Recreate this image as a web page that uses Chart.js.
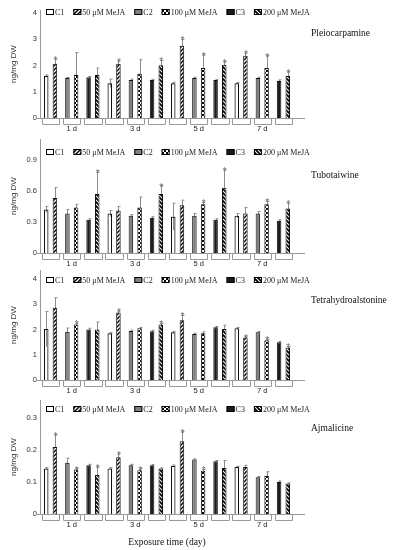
<!DOCTYPE html>
<html>
<head>
<meta charset="utf-8">
<script src="https://cdn.jsdelivr.net/npm/chart.js@4.4.1/dist/chart.umd.min.js"></script>
<style>
  body { margin: 0; background: #fff; }
  #wrap { position: relative; width: 394px; height: 550px; overflow: hidden; }
  #wrap canvas { position: absolute; left: 0; }
</style>
</head>
<body>
<div id="wrap">
  <canvas id="p1" width="394" height="140" style="top:0px"></canvas>
  <canvas id="p2" width="394" height="140" style="top:130px"></canvas>
  <canvas id="p3" width="394" height="140" style="top:260px"></canvas>
  <canvas id="p4" width="394" height="160" style="top:390px"></canvas>
</div>
<script>
const days = ['1 d', '3 d', '5 d', '7 d'];
const seriesNames = ['C1', '50 μM MeJA', 'C2', '100 μM MeJA', 'C3', '200 μM MeJA'];

// rows follow seriesNames, columns follow days, ng/mg DW
const pleioMean = [
  [1.60, 1.32, 1.32, 1.32],
  [2.06, 2.06, 2.75, 2.37],
  [1.52, 1.45, 1.52, 1.52],
  [1.64, 1.68, 1.90, 1.90],
  [1.55, 1.45, 1.45, 1.41],
  [1.64, 2.01, 2.03, 1.60]
];
const pleioErr = [
  [0.04, 0.16, 0.04, 0.03],
  [0.18, 0.10, 0.25, 0.10],
  [0.02, 0.03, 0.03, 0.03],
  [0.85, 0.54, 0.50, 0.47],
  [0.03, 0.02, 0.02, 0.04],
  [0.26, 0.18, 0.12, 0.16]
];
const pleioSig = [
  [0, 0, 0, 0], [1, 1, 1, 1], [0, 0, 0, 0], [0, 0, 1, 1], [0, 0, 0, 0], [0, 1, 1, 1]
];
const pleioTicks = [0, 1, 2, 3, 4];

const tuboMean = [
  [0.42, 0.38, 0.35, 0.36],
  [0.53, 0.41, 0.46, 0.38],
  [0.38, 0.36, 0.36, 0.38],
  [0.44, 0.44, 0.47, 0.47],
  [0.32, 0.34, 0.32, 0.31],
  [0.57, 0.57, 0.63, 0.43]
];
const tuboErr = [
  [0.03, 0.03, 0.13, 0.02],
  [0.10, 0.04, 0.05, 0.06],
  [0.04, 0.01, 0.02, 0.02],
  [0.03, 0.10, 0.02, 0.03],
  [0.01, 0.01, 0.01, 0.01],
  [0.21, 0.08, 0.17, 0.05]
];
const tuboSig = [
  [0, 0, 0, 0], [0, 0, 0, 0], [0, 0, 0, 0], [0, 0, 1, 1], [0, 0, 0, 0], [1, 1, 1, 1]
];
const tuboTicks = [0, 0.3, 0.6, 0.9];

const tetraMean = [
  [2.02, 1.85, 1.89, 2.05],
  [2.86, 2.68, 2.37, 1.68],
  [1.91, 1.94, 1.82, 1.89],
  [2.20, 2.05, 1.85, 1.58],
  [2.00, 1.93, 2.09, 1.50],
  [2.00, 2.20, 2.02, 1.29]
];
const tetraErr = [
  [0.70, 0.03, 0.04, 0.03],
  [0.40, 0.05, 0.20, 0.04],
  [0.15, 0.04, 0.03, 0.03],
  [0.05, 0.03, 0.06, 0.04],
  [0.05, 0.04, 0.03, 0.03],
  [0.30, 0.05, 0.15, 0.04]
];
const tetraSig = [
  [0, 0, 0, 0], [0, 1, 1, 1], [0, 0, 0, 0], [1, 0, 0, 1], [0, 0, 0, 0], [0, 1, 0, 1]
];
const tetraTicks = [0, 1, 2, 3, 4];

const ajmaMean = [
  [0.142, 0.142, 0.150, 0.147],
  [0.209, 0.177, 0.227, 0.147],
  [0.160, 0.152, 0.170, 0.115],
  [0.139, 0.137, 0.135, 0.119],
  [0.152, 0.152, 0.165, 0.100],
  [0.122, 0.142, 0.144, 0.095]
];
const ajmaErr = [
  [0.003, 0.003, 0.003, 0.002],
  [0.038, 0.010, 0.030, 0.005],
  [0.014, 0.003, 0.002, 0.002],
  [0.003, 0.005, 0.004, 0.013],
  [0.003, 0.002, 0.002, 0.003],
  [0.025, 0.002, 0.023, 0.002]
];
const ajmaSig = [
  [0, 0, 0, 0], [1, 1, 1, 0], [0, 0, 0, 0], [1, 1, 1, 0], [0, 0, 0, 0], [1, 0, 0, 0]
];
const ajmaTicks = [0, 0.1, 0.2, 0.3];

const SANS = '"Liberation Sans", Arial, sans-serif';
const SERIF = '"Liberation Serif", "Times New Roman", serif';

function stripes(dir, w) {
  const c = document.createElement('canvas');
  c.width = 4; c.height = 4;
  const g = c.getContext('2d');
  g.fillStyle = '#fff';
  g.fillRect(0, 0, 4, 4);
  g.strokeStyle = '#000';
  g.lineWidth = w;
  g.beginPath();
  if (dir > 0) {
    g.moveTo(-1, 5); g.lineTo(5, -1);
    g.moveTo(-1, 1); g.lineTo(1, -1);
    g.moveTo(3, 5); g.lineTo(5, 3);
  } else {
    g.moveTo(-1, -1); g.lineTo(5, 5);
    g.moveTo(-1, 3); g.lineTo(1, 5);
    g.moveTo(3, -1); g.lineTo(5, 1);
  }
  g.stroke();
  return g.createPattern(c, 'repeat');
}

function checker() {
  const c = document.createElement('canvas');
  c.width = 4; c.height = 4;
  const g = c.getContext('2d');
  g.fillStyle = '#fff';
  g.fillRect(0, 0, 4, 4);
  g.fillStyle = '#000';
  g.fillRect(0, 0, 2, 2);
  g.fillRect(2, 2, 2, 2);
  return g.createPattern(c, 'repeat');
}

const fills = [
  'rgba(255,255,255,0)', stripes(1, 1.5), '#808080', checker(), '#1c1c1c', stripes(-1, 1.8)
];

// each day holds three pairs (control + MeJA), one slot per pair
function spread(row, s) {
  const out = [];
  row.forEach(v => {
    for (let p = 0; p < 3; p++) out.push(p === Math.floor(s / 2) ? v : null);
  });
  return out;
}
const slotLabels = days.flatMap(d => ['', d, '']);

const pairMarks = {
  id: 'pairMarks',
  beforeDatasetsDraw(chart) {
    const { ctx } = chart;
    const y = chart.scales.y;
    ctx.save();
    ctx.strokeStyle = '#8c8c8c';
    ctx.lineWidth = 1;
    chart.data.datasets.forEach((ds, i) => {
      chart.getDatasetMeta(i).data.forEach((bar, k) => {
        const v = ds.data[k];
        if (v === null) return;
        const x = Math.round(bar.x) + 0.5;
        const top = y.getPixelForValue(v + ds.errors[k]);
        const bot = y.getPixelForValue(v - ds.errors[k]);
        ctx.beginPath();
        ctx.moveTo(x, bot);
        ctx.lineTo(x, top);
        ctx.moveTo(x - 1, top);
        ctx.lineTo(x + 2, top);
        ctx.stroke();
      });
    });
    ctx.restore();
  },
  afterDatasetsDraw(chart) {
    const { ctx, chartArea } = chart;
    const y = chart.scales.y;
    ctx.save();
    // asterisks
    ctx.fillStyle = '#6e6e6e';
    ctx.font = '10px ' + SANS;
    ctx.textAlign = 'center';
    ctx.textBaseline = 'alphabetic';
    chart.data.datasets.forEach((ds, i) => {
      chart.getDatasetMeta(i).data.forEach((bar, k) => {
        if (ds.data[k] === null || !ds.marks[k]) return;
        const top = y.getPixelForValue(ds.data[k] + ds.errors[k]);
        ctx.fillText('*', bar.x + 0.5, top + 5);
      });
    });
    // brackets under each pair
    ctx.strokeStyle = '#999';
    ctx.lineWidth = 1;
    slotLabels.forEach((lab, k) => {
      let l = Infinity, r = -Infinity;
      chart.data.datasets.forEach((ds, i) => {
        if (ds.data[k] === null) return;
        const bar = chart.getDatasetMeta(i).data[k];
        l = Math.min(l, bar.x - bar.width / 2);
        r = Math.max(r, bar.x + bar.width / 2);
      });
      const b = chartArea.bottom;
      l = Math.round(l - 2) + 0.5;
      r = Math.round(r + 2) + 0.5;
      ctx.beginPath();
      ctx.moveTo(l, b + 1);
      ctx.lineTo(l, b + 6.5);
      ctx.lineTo(r, b + 6.5);
      ctx.lineTo(r, b + 1);
      ctx.stroke();
    });
    // x axis runs a little past the last pair
    ctx.beginPath();
    ctx.moveTo(chartArea.left - 3, Math.round(chartArea.bottom) + 0.5);
    ctx.lineTo(chartArea.right + 11, Math.round(chartArea.bottom) + 0.5);
    ctx.stroke();
    ctx.restore();
  }
};

const boxLegend = {
  id: 'boxLegend',
  afterDraw(chart, args, opts) {
    const { ctx } = chart;
    ctx.save();
    ctx.font = '8px ' + SERIF;
    ctx.textBaseline = 'middle';
    let x = opts.x;
    chart.data.datasets.forEach(ds => {
      ctx.fillStyle = '#fff';
      ctx.fillRect(x, opts.y - 3, 8, 6);
      ctx.fillStyle = ds.backgroundColor;
      ctx.fillRect(x, opts.y - 3, 8, 6);
      ctx.strokeStyle = '#000';
      ctx.lineWidth = 1;
      ctx.strokeRect(x + 0.5, opts.y - 2.5, 7, 5);
      ctx.fillStyle = '#222';
      ctx.fillText(ds.label, x + 9, opts.y + 0.5);
      x += 9 + ctx.measureText(ds.label).width + 9;
    });
    // compound name on the right
    ctx.font = '9.5px ' + SERIF;
    ctx.fillStyle = '#111';
    ctx.fillText(opts.name, opts.nameX, opts.nameY);
    ctx.restore();
  }
};

function drawPanel(id, name, means, errs, sigs, ticks, max, box) {
  const canvas = document.getElementById(id);
  const bottomH = canvas.height - box.axisBottom;
  return new Chart(canvas, {
    type: 'bar',
    data: {
      labels: slotLabels,
      datasets: seriesNames.map((label, s) => ({
        label: label,
        data: spread(means[s], s),
        errors: spread(errs[s], s),
        marks: spread(sigs[s], s),
        backgroundColor: fills[s],
        borderColor: '#111',
        borderWidth: 1
      }))
    },
    options: {
      responsive: false,
      animation: false,
      devicePixelRatio: 1,
      layout: { padding: { top: box.axisTop, right: 100, left: 0, bottom: 0 } },
      datasets: { bar: { skipNull: true, categoryPercentage: 0.82, barPercentage: 0.52 } },
      plugins: {
        legend: { display: false },
        tooltip: { enabled: false },
        boxLegend: { x: 46, y: box.legendY, name: name, nameX: 311, nameY: box.nameY }
      },
      scales: {
        x: {
          grid: { display: false, drawTicks: false },
          border: { color: '#999' },
          ticks: { autoSkip: false, maxRotation: 0, padding: 6, color: '#222', font: { family: SANS, size: 7.5 } },
          title: {
            display: !!box.xTitle,
            text: box.xTitle || '',
            color: '#111',
            font: { family: SERIF, size: 9.5 },
            padding: { top: 0, bottom: 2 }
          },
          afterFit(scale) { scale.height = bottomH; }
        },
        y: {
          min: 0,
          max: max,
          grid: { display: false, drawTicks: false },
          border: { color: '#999' },
          afterBuildTicks(scale) { scale.ticks = ticks.map(v => ({ value: v })); },
          ticks: { padding: 3, color: '#333', font: { family: SANS, size: 7.5 }, callback: v => String(v) },
          title: { display: true, text: 'ng/mg DW', color: '#333', font: { family: SANS, size: 8 }, padding: { top: 9, bottom: 0 } },
          afterFit(scale) { scale.width = 40; }
        }
      }
    },
    plugins: [pairMarks, boxLegend]
  });
}

drawPanel('p1', 'Pleiocarpamine', pleioMean, pleioErr, pleioSig, pleioTicks, 4.11,
  { axisTop: 10, axisBottom: 118, legendY: 12, nameY: 33 });
drawPanel('p2', 'Tubotaiwine', tuboMean, tuboErr, tuboSig, tuboTicks, 1.10,
  { axisTop: 9, axisBottom: 123, legendY: 22, nameY: 45 });
drawPanel('p3', 'Tetrahydroalstonine', tetraMean, tetraErr, tetraSig, tetraTicks, 4.36,
  { axisTop: 10, axisBottom: 120, legendY: 20, nameY: 40 });
drawPanel('p4', 'Ajmalicine', ajmaMean, ajmaErr, ajmaSig, ajmaTicks, 0.356,
  { axisTop: 10, axisBottom: 124, legendY: 19, nameY: 38, xTitle: 'Exposure time (day)' });
</script>
</body>
</html>
